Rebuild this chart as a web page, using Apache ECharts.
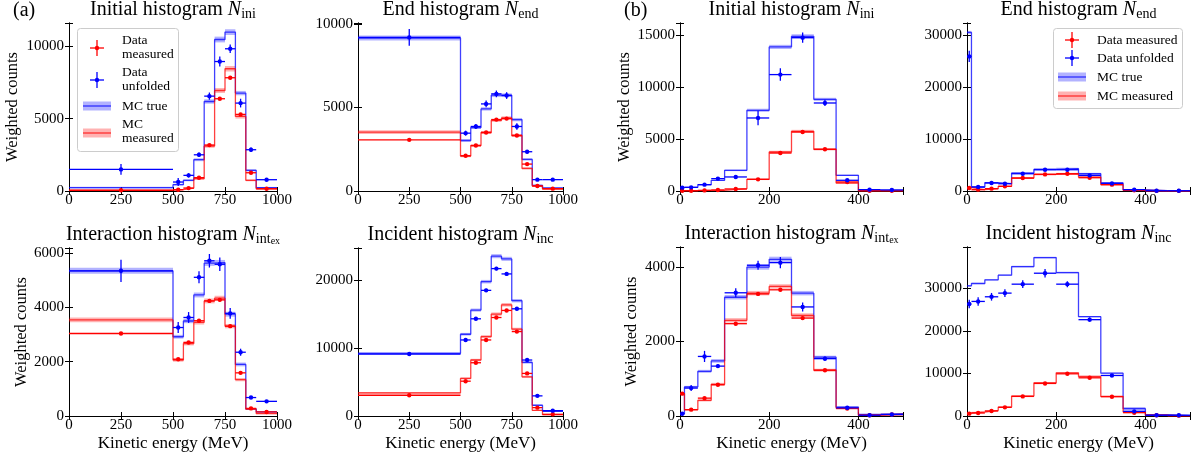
<!DOCTYPE html>
<html>
<head>
<meta charset="utf-8">
<script src="https://cdn.jsdelivr.net/npm/echarts@6/dist/echarts.min.js"></script>
<style>html,body{margin:0;padding:0;background:#fff}#main{width:1198px;height:462px}</style>
</head>
<body>
<div id="main"></div>
<script>
// bin edges (MeV)
var edgesA = [0, 500, 550, 600, 650, 700, 750, 800, 850, 900, 1000];
var edgesB = [0, 10, 40, 70, 100, 150, 200, 250, 300, 350, 400, 450, 500];

// (a) initial
var aIniTrue = [230, 440, 740, 2160, 6180, 10460, 10970, 6760, 1430, 230];
var aIniTrueErr = [60, 60, 70, 100, 150, 200, 200, 150, 80, 50];
var aIniReco = [60, 90, 200, 850, 3100, 6940, 8440, 5150, 740, 140];
var aIniRecoErr = [40, 40, 50, 80, 120, 170, 190, 150, 70, 40];
var aIniUnf = [1490, 620, 1080, 2500, 6550, 8940, 9820, 6070, 2850, 780];
var aIniUnfErr = [370, 280, 150, 150, 250, 350, 300, 300, 150, 80];
var aIniData = [50, 90, 200, 920, 3170, 6370, 7820, 5290, 1260, 160];
var aIniDataErr = [20, 20, 30, 60, 80, 80, 90, 80, 50, 20];
// (a) end
var aEndTrue = [9150, 3020, 3800, 4910, 5730, 5730, 4270, 1890, 340, 180];
var aEndTrueErr = [150, 80, 90, 100, 110, 110, 100, 70, 40, 30];
var aEndReco = [3520, 2090, 2720, 3500, 4230, 4370, 3320, 1350, 300, 120];
var aEndRecoErr = [110, 70, 80, 90, 100, 100, 90, 70, 40, 30];
var aEndUnf = [9190, 3460, 3860, 5210, 5810, 5710, 3860, 2350, 680, 680];
var aEndUnfErr = [500, 150, 150, 200, 200, 200, 200, 100, 40, 40];
var aEndData = [3060, 2110, 2720, 3500, 4270, 4330, 3320, 1610, 300, 140];
var aEndDataErr = [50, 50, 60, 60, 70, 70, 60, 40, 20, 15];
// (a) interaction
var aIntTrue = [5350, 2920, 3500, 4460, 5630, 5650, 3750, 1900, 260, 150];
var aIntTrueErr = [110, 70, 80, 90, 100, 100, 90, 70, 30, 25];
var aIntReco = [3540, 2060, 2670, 3450, 4240, 4340, 3310, 1340, 250, 90];
var aIntRecoErr = [90, 60, 70, 80, 90, 90, 80, 60, 30, 20];
var aIntUnf = [5350, 3260, 3630, 5110, 5720, 5590, 3780, 2350, 680, 540];
var aIntUnfErr = [410, 200, 200, 220, 250, 250, 200, 130, 50, 30];
var aIntData = [3040, 2090, 2710, 3510, 4240, 4280, 3310, 1590, 280, 150];
var aIntDataErr = [50, 45, 50, 60, 65, 65, 55, 40, 15, 10];
// (a) incident
var aIncTrue = [9210, 12020, 15570, 19750, 23500, 23100, 16950, 7880, 1580, 690];
var aIncTrueErr = [150, 200, 230, 260, 300, 300, 250, 180, 80, 50];
var aIncReco = [3400, 5520, 8230, 11670, 14980, 16350, 12760, 5760, 840, 200];
var aIncRecoErr = [120, 150, 180, 220, 250, 260, 220, 150, 60, 30];
var aIncUnf = [9110, 11180, 14290, 18470, 21670, 20890, 15760, 8230, 2960, 790];
var aIncUnfErr = [300, 250, 250, 250, 250, 250, 250, 200, 80, 40];
var aIncData = [3050, 5120, 7830, 11180, 14480, 15520, 12410, 6260, 1230, 250];
var aIncDataErr = [60, 80, 100, 120, 130, 130, 120, 80, 40, 20];

// (b) initial
var bIniTrue = [350, 350, 610, 1030, 1990, 7760, 13850, 14870, 8810, 1510, 60, 60];
var bIniTrueErr = [40, 40, 50, 60, 80, 150, 200, 200, 150, 70, 20, 20];
var bIniReco = [30, 30, 60, 60, 220, 1120, 3750, 5740, 4010, 770, 30, 30];
var bIniRecoErr = [15, 15, 20, 20, 40, 70, 120, 140, 110, 50, 15, 15];
var bIniUnf = [320, 350, 610, 1190, 1350, 7020, 11190, 14740, 8460, 1030, 130, 100];
var bIniUnfErr = [60, 60, 80, 150, 200, 700, 600, 500, 300, 100, 40, 30];
var bIniData = [30, 30, 60, 100, 190, 1120, 3650, 5670, 4010, 870, 30, 30];
var bIniDataErr = [10, 10, 15, 20, 30, 60, 80, 90, 80, 40, 10, 10];
// (b) end
var bEndTrue = [30580, 770, 1600, 1410, 3460, 4170, 4290, 3330, 1540, 260, 60, 60];
var bEndTrueErr = [300, 80, 120, 110, 180, 200, 200, 180, 120, 50, 20, 20];
var bEndReco = [640, 260, 450, 900, 2500, 3200, 3330, 2690, 1220, 130, 60, 60];
var bEndRecoErr = [60, 40, 60, 80, 150, 170, 170, 150, 100, 30, 20, 20];
var bEndUnf = [25960, 770, 1540, 1410, 3330, 4100, 4100, 3010, 1470, 260, 60, 60];
var bEndUnfErr = [1100, 150, 200, 200, 250, 250, 250, 250, 150, 50, 20, 20];
var bEndData = [580, 260, 450, 900, 2500, 3200, 3330, 2560, 1220, 130, 30, 30];
var bEndDataErr = [50, 30, 40, 60, 100, 100, 100, 100, 70, 20, 10, 10];
// (b) interaction
var bIntTrue = [60, 780, 1200, 1480, 3190, 4000, 4210, 3300, 1580, 240, 40, 60];
var bIntTrueErr = [15, 30, 40, 50, 60, 70, 70, 60, 40, 20, 10, 10];
var bIntReco = [600, 170, 420, 850, 2570, 3300, 3480, 2700, 1230, 210, 20, 40];
var bIntRecoErr = [20, 20, 30, 40, 60, 60, 60, 60, 40, 15, 10, 10];
var bIntUnf = [60, 750, 1600, 1340, 3310, 4050, 4120, 2930, 1540, 220, 20, 40];
var bIntUnfErr = [30, 80, 150, 50, 120, 120, 150, 120, 60, 30, 10, 10];
var bIntData = [600, 170, 480, 840, 2480, 3280, 3390, 2630, 1230, 200, 20, 40];
var bIntDataErr = [20, 15, 20, 25, 40, 40, 40, 40, 30, 15, 5, 5];
// (b) incident
var bIncTrue = [30550, 31090, 31950, 33040, 35060, 37170, 33660, 23300, 10050, 1710, 310, 160];
var bIncTrueErr = [150, 150, 150, 150, 200, 200, 200, 150, 100, 400, 50, 30];
var bIncReco = [700, 940, 1320, 2100, 4680, 7790, 10130, 9270, 4600, 940, 160, 80];
var bIncRecoErr = [50, 60, 70, 90, 120, 150, 170, 160, 110, 50, 20, 15];
var bIncUnf = [26260, 26880, 27970, 28830, 30930, 33500, 30930, 22600, 9510, 1090, 160, 160];
var bIncUnfErr = [1000, 1000, 900, 900, 900, 1000, 700, 500, 300, 100, 30, 30];
var bIncData = [550, 700, 1170, 2030, 4600, 7640, 9900, 8960, 4520, 780, 160, 80];
var bIncDataErr = [40, 50, 60, 80, 100, 120, 140, 130, 100, 40, 15, 10];

var SERIF = "'Liberation Serif', 'DejaVu Serif', serif";
var BLUE = '#0000ff', RED = '#ff0000';

var panels = [
  {name: 'Initial histogram ', sub: 'ini', edges: edgesA, xmax: 1000, xint: 250, ymax: 11600, yint: 5000,
   left: 69, top: 23, width: 208, height: 168, ygap: 48, xname: false,
   t: aIniTrue, te: aIniTrueErr, r: aIniReco, re: aIniRecoErr, u: aIniUnf, ue: aIniUnfErr, d: aIniData, de: aIniDataErr},
  {name: 'End histogram ', sub: 'end', edges: edgesA, xmax: 1000, xint: 250, ymax: 10050, yint: 5000,
   left: 358, top: 23, width: 205, height: 168, ygap: 0, xname: false,
   t: aEndTrue, te: aEndTrueErr, r: aEndReco, re: aEndRecoErr, u: aEndUnf, ue: aEndUnfErr, d: aEndData, de: aEndDataErr},
  {name: 'Interaction histogram ', sub: 'int', sub2: 'ex', edges: edgesA, xmax: 1000, xint: 250, ymax: 6190, yint: 2000,
   left: 69, top: 248, width: 208, height: 168, ygap: 39, xname: true,
   t: aIntTrue, te: aIntTrueErr, r: aIntReco, re: aIntRecoErr, u: aIntUnf, ue: aIntUnfErr, d: aIntData, de: aIntDataErr},
  {name: 'Incident histogram ', sub: 'inc', edges: edgesA, xmax: 1000, xint: 250, ymax: 24700, yint: 10000,
   left: 358, top: 248, width: 205, height: 168, ygap: 0, xname: true,
   t: aIncTrue, te: aIncTrueErr, r: aIncReco, re: aIncRecoErr, u: aIncUnf, ue: aIncUnfErr, d: aIncData, de: aIncDataErr},
  {name: 'Initial histogram ', sub: 'ini', edges: edgesB, xmax: 500, xint: 200, ymax: 16150, yint: 5000,
   left: 680, top: 23, width: 223, height: 168, ygap: 47, xname: false,
   t: bIniTrue, te: bIniTrueErr, r: bIniReco, re: bIniRecoErr, u: bIniUnf, ue: bIniUnfErr, d: bIniData, de: bIniDataErr},
  {name: 'End histogram ', sub: 'end', edges: edgesB, xmax: 500, xint: 200, ymax: 32400, yint: 10000,
   left: 967, top: 23, width: 223, height: 168, ygap: 0, xname: false,
   t: bEndTrue, te: bEndTrueErr, r: bEndReco, re: bEndRecoErr, u: bEndUnf, ue: bEndUnfErr, d: bEndData, de: bEndDataErr},
  {name: 'Interaction histogram ', sub: 'int', sub2: 'ex', edges: edgesB, xmax: 500, xint: 200, ymax: 4540, yint: 2000,
   left: 680, top: 247, width: 223, height: 169, ygap: 40, xname: true,
   t: bIntTrue, te: bIntTrueErr, r: bIntReco, re: bIntRecoErr, u: bIntUnf, ue: bIntUnfErr, d: bIntData, de: bIntDataErr},
  {name: 'Incident histogram ', sub: 'inc', edges: edgesB, xmax: 500, xint: 200, ymax: 39650, yint: 10000,
   left: 967, top: 247, width: 223, height: 169, ygap: 0, xname: true,
   t: bIncTrue, te: bIncTrueErr, r: bIncReco, re: bIncRecoErr, u: bIncUnf, ue: bIncUnfErr, d: bIncData, de: bIncDataErr}
];

var grids = [], xAxes = [], yAxes = [], series = [], graphics = [];

function tickFmt(step) {
  return function (v) { return v % step === 0 ? String(v) : ''; };
}

function bandSeries(k, p, vals, errs, color) {
  return {
    type: 'custom', xAxisIndex: 2 * k, yAxisIndex: 2 * k, z: 2, silent: true,
    data: vals.map(function (v, i) { return [p.edges[i], p.edges[i + 1], v, errs[i]]; }),
    renderItem: function (params, api) {
      var a = api.coord([api.value(0), api.value(2) + api.value(3)]);
      var b = api.coord([api.value(1), api.value(2) - api.value(3)]);
      return {type: 'rect', shape: {x: a[0], y: a[1], width: b[0] - a[0], height: Math.max(b[1] - a[1], 1)},
              style: {fill: color, opacity: 0.3}};
    }
  };
}

function stepSeries(k, p, vals, color) {
  var pts = p.edges.map(function (e, i) { return [e, vals[Math.min(i, vals.length - 1)]]; });
  return {
    type: 'line', xAxisIndex: 2 * k, yAxisIndex: 2 * k, z: 3, step: 'end', silent: true,
    showSymbol: false, symbol: 'none', data: pts, animation: false,
    lineStyle: {color: color, width: 1.3, opacity: 0.75}
  };
}

function pointSeries(k, p, vals, errs, color) {
  return {
    type: 'custom', xAxisIndex: 2 * k, yAxisIndex: 2 * k, z: 5, silent: true,
    data: vals.map(function (v, i) {
      var lo = p.edges[i], hi = p.edges[i + 1];
      return [(lo + hi) / 2, v, errs[i], lo, hi];
    }),
    renderItem: function (params, api) {
      var x = api.value(0), y = api.value(1), e = api.value(2);
      var c = api.coord([x, y]);
      var l = api.coord([api.value(3), y]), r = api.coord([api.value(4), y]);
      var t = api.coord([x, y + e]), b = api.coord([x, y - e]);
      var st = {stroke: color, lineWidth: 1.3};
      return {type: 'group', children: [
        {type: 'line', shape: {x1: l[0], y1: c[1], x2: r[0], y2: c[1]}, style: st},
        {type: 'line', shape: {x1: c[0], y1: t[1], x2: c[0], y2: b[1]}, style: st},
        {type: 'circle', shape: {cx: c[0], cy: c[1], r: 2.2}, style: {fill: color}}
      ]};
    }
  };
}

var lineAx = {show: true, lineStyle: {color: '#000', width: 1}};
var tickAx = {show: true, inside: true, length: 4, lineStyle: {color: '#000', width: 1}};
var labelStyle = {color: '#000', fontFamily: SERIF, fontSize: 15};

panels.forEach(function (p, k) {
  grids.push({left: p.left, top: p.top, width: p.width, height: p.height, containLabel: false, outerBoundsMode: 'none'});
  xAxes.push({
    type: 'value', gridIndex: k, min: 0, max: p.xmax, interval: p.xint, position: 'bottom',
    axisLine: lineAx, axisTick: tickAx, splitLine: {show: false},
    axisLabel: Object.assign({margin: 2, formatter: tickFmt(p.xint)}, labelStyle),
    name: p.xname ? 'Kinetic energy (MeV)' : '', nameLocation: 'middle', nameGap: 19,
    nameTextStyle: {color: '#000', fontFamily: SERIF, fontSize: 17}
  });
  xAxes.push({
    type: 'value', gridIndex: k, min: 0, max: p.xmax, interval: p.xint, position: 'top',
    axisLine: lineAx, axisTick: tickAx, splitLine: {show: false}, axisLabel: {show: false}
  });
  yAxes.push({
    type: 'value', gridIndex: k, min: 0, max: p.ymax, interval: p.yint, position: 'left',
    axisLine: lineAx, axisTick: tickAx, splitLine: {show: false},
    axisLabel: Object.assign({margin: 5, formatter: tickFmt(p.yint)}, labelStyle),
    name: p.ygap ? 'Weighted counts' : '', nameLocation: 'middle', nameGap: p.ygap, nameRotate: 90,
    nameTextStyle: {color: '#000', fontFamily: SERIF, fontSize: 16.5}
  });
  yAxes.push({
    type: 'value', gridIndex: k, min: 0, max: p.ymax, interval: p.yint, position: 'right',
    axisLine: lineAx, axisTick: tickAx, splitLine: {show: false}, axisLabel: {show: false}
  });

  series.push(bandSeries(k, p, p.t, p.te, BLUE));
  series.push(bandSeries(k, p, p.r, p.re, RED));
  series.push(stepSeries(k, p, p.t, BLUE));
  series.push(stepSeries(k, p, p.r, RED));
  series.push(pointSeries(k, p, p.d, p.de, RED));
  series.push(pointSeries(k, p, p.u, p.ue, BLUE));

  var txt = '{t|' + p.name + '}{n|N}{s|' + p.sub + '}' + (p.sub2 ? '{x|' + p.sub2 + '}' : '');
  graphics.push({
    type: 'text', x: p.left + p.width / 2, y: p.top - 25.5, z: 10,
    style: {
      text: txt, align: 'center', verticalAlign: 'top', fill: '#000',
      rich: {
        t: {fontFamily: SERIF, fontSize: 20, lineHeight: 24, fill: '#000'},
        n: {fontFamily: SERIF, fontSize: 20, fontStyle: 'italic', lineHeight: 24, fill: '#000'},
        s: {fontFamily: SERIF, fontSize: 14, lineHeight: 13, verticalAlign: 'bottom', fill: '#000'},
        x: {fontFamily: SERIF, fontSize: 10, lineHeight: 4, verticalAlign: 'bottom', fill: '#000'}
      }
    }
  });
});

// panel tags
graphics.push({type: 'text', x: 13, y: 1, style: {text: '(a)', font: "20px " + SERIF, fill: '#000'}});
graphics.push({type: 'text', x: 624, y: 1, style: {text: '(b)', font: "20px " + SERIF, fill: '#000'}});

function crossIcon(cx, cy, color) {
  var st = {stroke: color, lineWidth: 1.3};
  return [
    {type: 'line', shape: {x1: cx - 7, y1: cy, x2: cx + 7, y2: cy}, style: st, z: 20},
    {type: 'line', shape: {x1: cx, y1: cy - 8, x2: cx, y2: cy + 8}, style: st, z: 20},
    {type: 'circle', shape: {cx: cx, cy: cy, r: 2.2}, style: {fill: color}, z: 20}
  ];
}
function bandIcon(x, cy, color) {
  return [
    {type: 'rect', shape: {x: x, y: cy - 4.5, width: 28, height: 9}, style: {fill: color, opacity: 0.3}, z: 20},
    {type: 'line', shape: {x1: x, y1: cy, x2: x + 28, y2: cy}, style: {stroke: color, lineWidth: 1.3, opacity: 0.75}, z: 20}
  ];
}
function legText(x, y, s) {
  return {type: 'text', x: x, y: y, z: 20, style: {text: s, font: "13.5px " + SERIF, fill: '#000', verticalAlign: 'middle', lineHeight: 14}};
}

// legend (a)
graphics.push({type: 'rect', z: 19, shape: {x: 77.5, y: 28.5, width: 101, height: 123, r: 3},
               style: {fill: 'rgba(255,255,255,0.8)', stroke: '#cccccc', lineWidth: 1}});
graphics = graphics.concat(crossIcon(97, 48, RED), crossIcon(97, 80, BLUE),
  bandIcon(83, 106, BLUE), bandIcon(83, 133, RED));
graphics.push(legText(122, 47, 'Data\nmeasured'), legText(122, 79.5, 'Data\nunfolded'),
  legText(122, 106, 'MC true'), legText(122, 131.5, 'MC\nmeasured'));

// legend (b)
graphics.push({type: 'rect', z: 19, shape: {x: 1053.5, y: 28.5, width: 129, height: 80, r: 3},
               style: {fill: 'rgba(255,255,255,0.8)', stroke: '#cccccc', lineWidth: 1}});
graphics = graphics.concat(crossIcon(1072, 40, RED), crossIcon(1072, 58, BLUE),
  bandIcon(1058, 77, BLUE), bandIcon(1058, 96, RED));
graphics.push(legText(1097, 40, 'Data measured'), legText(1097, 58, 'Data unfolded'),
  legText(1097, 77, 'MC true'), legText(1097, 96, 'MC measured'));

var chart = echarts.init(document.getElementById('main'), null, {renderer: 'canvas'});
chart.setOption({
  animation: false,
  backgroundColor: '#fff',
  grid: grids,
  xAxis: xAxes,
  yAxis: yAxes,
  series: series,
  graphic: graphics
});
</script>
</body>
</html>
